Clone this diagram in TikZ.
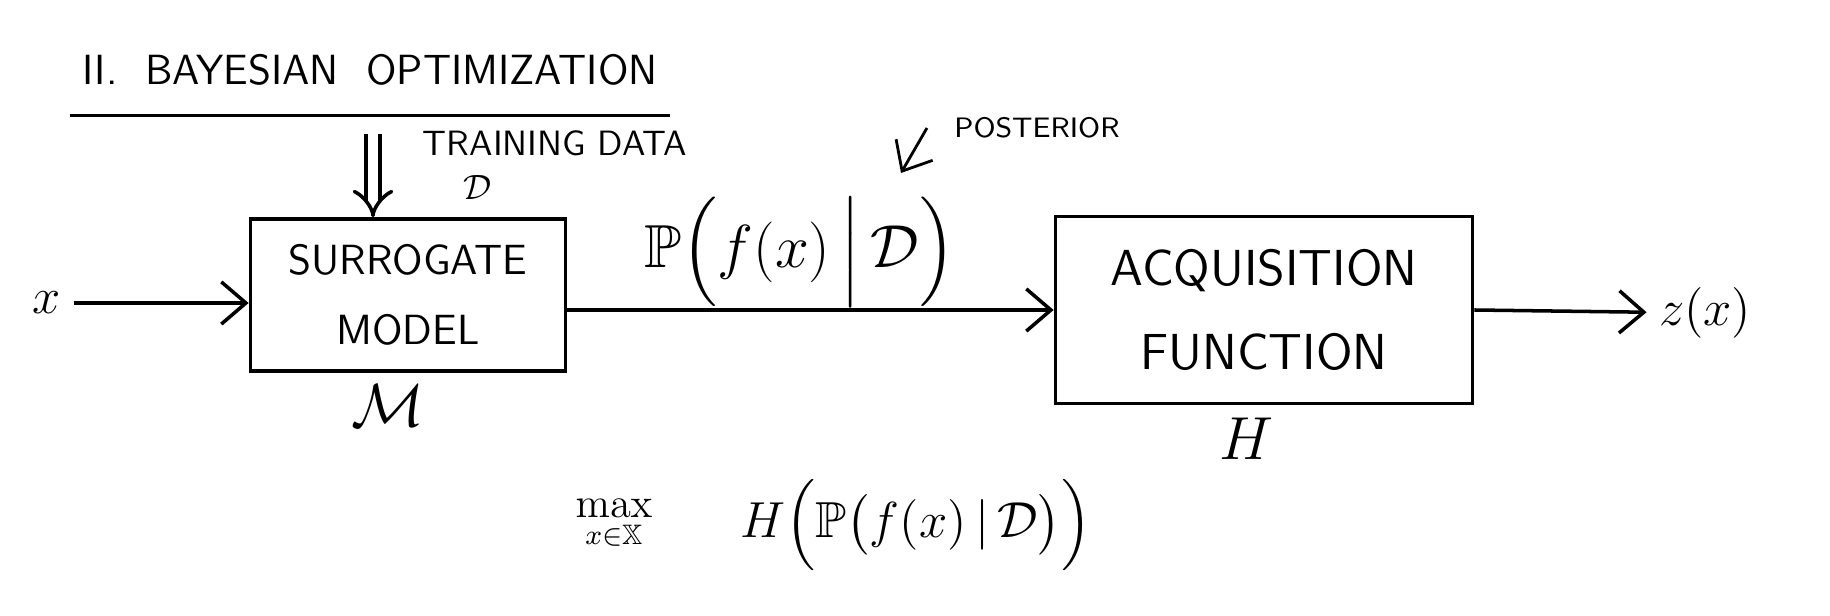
\documentclass[tikz,border=0pt]{standalone}
\usepackage{amsmath,amssymb}
\usepackage{tikz}
\usetikzlibrary{positioning}
\usetikzlibrary{arrows.meta}
\tikzstyle{block}=[draw, line width=1pt, font=\sffamily, align=center]
\tikzstyle{arr}=[-{Straight Barb[length=7pt,width=12pt]}, line width=1pt]

\begin{document}
\begin{tikzpicture}[x=0.01cm, y=-0.01cm]
            \useasboundingbox (0,0) rectangle (1830,616);

            \node[font=\sffamily\large] (title) at (370,70) {II.\ \ BAYESIAN\ \ OPTIMIZATION};
            \draw[line width=1pt] ([yshift=-5pt]title.south west) -- ([yshift=-5pt]title.south east);

            \node[block, font=\sffamily\large, minimum width=3.15cm, minimum height=1.52cm] (surr) at (408,295) {SURROGATE\\[6pt]MODEL};
            \node[block, font=\sffamily\Large, minimum width=4.17cm, minimum height=1.87cm] (acq) at (1264,310) {ACQUISITION\\[6pt]FUNCTION};

            \node (x) at (47,303) {\Large $x$};
            \node (z) at (1705,313) {\Large $z(x)$};
            \node[below=0pt of surr, xshift=-0.2cm] (m) {\LARGE $\mathcal{M}$};
            \node[below=0pt of acq, xshift=-0.18cm] (h) {\LARGE $H$};

            \node[font=\sffamily] (train) at (555,143) {TRAINING DATA};
            \node (d) at (478,187) {$\mathcal{D}$};
            \coordinate (td) at (373,134);

            \node[inner sep=1pt] (post) at (800,252) {\LARGE $\mathbb{P}\Bigl(f(x)\,\Big|\,\mathcal{D}\Bigr)$};
            \node[font=\sffamily\footnotesize] (postlbl) at (1037,128) {POSTERIOR};
            \coordinate (pt) at (901,173);

            \node (hexpr) at (916,525) {\Large $H\Bigl(\mathbb{P}\bigl(f(x)\,|\,\mathcal{D}\bigr)\Bigr)$};
            \node[left=18pt of hexpr] (maxx) {\large $\max\limits_{x\in\mathbb{X}}$};

            \draw[arr] (x) -- (surr.west |- x);
            \draw[arr, double, double distance=3pt, -{Implies}] (td) -- (td |- surr.north);
            \draw[arr] (surr.east |- acq.west) -- (acq.west);
            \draw[arr] (acq.east) -- (z);
            \draw[arr, line width=0.8pt] ([xshift=-0.15cm]postlbl.west) -- (pt);
        \end{tikzpicture}
\end{document}
